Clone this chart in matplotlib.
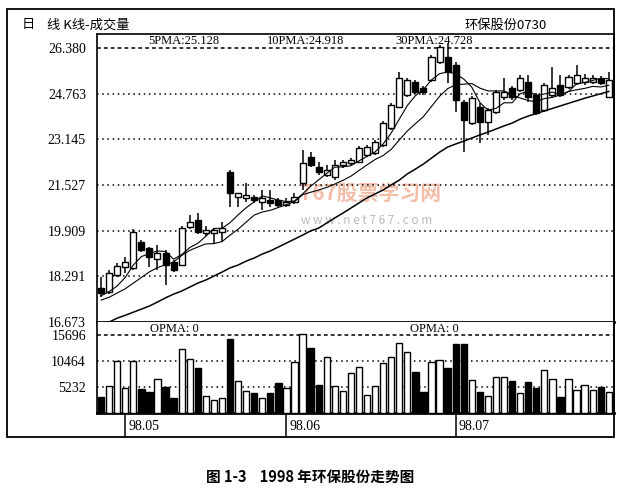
import matplotlib
matplotlib.use("Agg")
from matplotlib import pyplot as plt
from matplotlib.patches import Rectangle
from matplotlib.transforms import blended_transform_factory
import numpy as np

# daily candles, 1998-04 .. 1998-07
opens = [17.88, 17.73, 18.34, 18.62, 18.59, 19.51, 19.29, 18.90, 19.12, 18.80,
         18.69, 20.04, 20.29, 19.83, 19.83, 19.86, 21.99, 21.10, 21.07, 21.10,
         20.92, 20.99, 20.99, 20.82, 20.92, 21.60, 22.52, 22.16, 21.88, 21.81,
         22.23, 22.31, 22.34, 22.59, 22.66, 22.94, 23.55, 24.29, 24.72, 25.18,
         24.96, 25.25, 25.88, 26.06, 25.78, 24.47, 23.72, 24.29, 23.76, 24.11,
         24.64, 24.96, 24.89, 25.18, 24.72, 24.18, 24.72, 25.07, 25.00, 25.14,
         25.18, 25.18, 25.28, 24.64]
highs = [18.27, 18.52, 18.76, 18.97, 19.97, 19.58, 19.33, 19.40, 19.22, 18.87,
         20.07, 20.46, 20.53, 20.07, 20.00, 20.22, 22.06, 21.26, 21.60, 21.17,
         21.35, 21.35, 21.07, 21.07, 21.24, 22.77, 22.69, 22.34, 22.23, 22.41,
         22.41, 22.48, 22.91, 22.94, 23.12, 23.79, 24.43, 25.53, 25.32, 25.25,
         25.03, 26.13, 26.49, 26.56, 25.88, 24.54, 24.68, 24.43, 24.25, 24.89,
         25.32, 25.03, 25.42, 25.42, 24.79, 25.14, 25.71, 25.42, 25.42, 25.78,
         25.46, 25.42, 25.39, 25.53]
lows = [17.56, 17.66, 18.27, 18.41, 18.52, 19.15, 18.62, 18.52, 17.98, 18.44,
        18.66, 19.97, 19.79, 19.72, 19.47, 19.51, 20.75, 20.75, 20.92, 20.89,
        20.64, 20.75, 20.75, 20.75, 20.85, 21.35, 22.16, 21.88, 21.81, 21.70,
        22.13, 22.23, 22.31, 22.52, 22.59, 22.87, 23.47, 24.25, 24.64, 24.75,
        24.72, 25.18, 25.81, 25.14, 24.11, 22.69, 23.65, 23.01, 23.30, 24.04,
        24.54, 24.54, 24.82, 24.47, 24.00, 24.11, 24.64, 24.64, 24.93, 25.07,
        25.07, 25.10, 25.07, 24.64]
closes = [17.70, 18.41, 18.66, 18.80, 19.86, 19.22, 18.97, 19.12, 18.69, 18.52,
          20.00, 20.22, 19.86, 19.93, 19.93, 20.00, 21.24, 21.24, 21.17, 20.99,
          21.07, 20.89, 20.82, 20.92, 21.10, 22.31, 22.23, 21.99, 22.06, 22.23,
          22.34, 22.41, 22.84, 22.87, 23.05, 23.72, 24.36, 25.32, 25.25, 24.82,
          24.82, 26.06, 26.42, 25.53, 24.54, 23.83, 24.61, 23.76, 24.18, 24.82,
          24.82, 24.64, 25.32, 24.64, 24.08, 25.07, 24.96, 24.72, 25.35, 25.42,
          25.32, 25.32, 25.14, 25.25]
volumes = [3220, 5430, 10460, 5030, 10460, 4830, 4230, 6840, 5230, 3020,
           12880, 10870, 9050, 3420, 2620, 3020, 14890, 6440, 4430, 4020,
           3020, 4020, 6040, 5030, 10260, 15900, 13080, 5630, 11270, 5430,
           4430, 8050, 9260, 3620, 5430, 10060, 11270, 14080, 12270, 8250,
           4230, 10260, 10660, 9050, 13880, 13880, 6640, 4230, 3420, 7240,
           7240, 6440, 4020, 6240, 5030, 8650, 6840, 3220, 6840, 4630,
           5630, 4630, 5230, 4230]

# moving averages as drawn
ma5 = [17.60, 17.75, 17.95, 18.25, 18.69, 18.99, 19.10, 19.19, 19.17, 18.90,
       19.06, 19.31, 19.46, 19.71, 19.99, 19.99, 20.19, 20.47, 20.72, 20.93,
       21.14, 21.07, 20.99, 20.94, 20.96, 21.21, 21.48, 21.71, 21.94, 22.16,
       22.17, 22.21, 22.38, 22.54, 22.70, 22.98, 23.37, 23.86, 24.34, 24.69,
       24.91, 25.25, 25.47, 25.53, 25.47, 25.28, 24.99, 24.45, 24.18, 24.24,
       24.44, 24.44, 24.76, 24.85, 24.70, 24.75, 24.82, 24.70, 24.84, 25.11,
       25.16, 25.23, 25.31, 25.29]
ma10 = [17.45, 17.55, 17.70, 17.85, 18.05, 18.25, 18.45, 18.60, 18.70, 18.80,
        19.03, 19.21, 19.33, 19.44, 19.45, 19.52, 19.75, 19.96, 20.21, 20.46,
        20.57, 20.63, 20.73, 20.83, 20.94, 21.18, 21.27, 21.35, 21.44, 21.56,
        21.69, 21.84, 22.04, 22.24, 22.43, 22.57, 22.79, 23.12, 23.44, 23.70,
        23.95, 24.31, 24.67, 24.94, 25.08, 25.10, 25.12, 24.96, 24.86, 24.86,
        24.86, 24.72, 24.61, 24.52, 24.47, 24.59, 24.63, 24.72, 24.84, 24.90,
        24.95, 25.02, 25.00, 25.06]
ma30 = [16.57, 16.67, 16.81, 16.91, 17.02, 17.13, 17.24, 17.38, 17.53, 17.66,
        17.77, 17.91, 18.05, 18.16, 18.30, 18.44, 18.59, 18.69, 18.83, 18.94,
        19.08, 19.19, 19.33, 19.47, 19.61, 19.75, 19.90, 20.00, 20.18, 20.36,
        20.53, 20.71, 20.89, 21.07, 21.21, 21.35, 21.53, 21.70, 21.92, 22.09,
        22.27, 22.48, 22.69, 22.87, 22.98, 23.08, 23.19, 23.30, 23.40, 23.51,
        23.62, 23.72, 23.86, 23.97, 24.06, 24.15, 24.24, 24.33, 24.42, 24.51,
        24.60, 24.68, 24.76, 24.84]

price_ticks = [16.673, 18.291, 19.909, 21.527, 23.145, 24.763, 26.380]
vol_ticks = [5232, 10464, 15696]
month_pos = [3, 23, 44]
month_labels = ["98.05", "98.06", "98.07"]

plt.rcParams['font.family'] = ['Liberation Serif', 'Noto Sans CJK SC']
CJK = ['Noto Sans CJK SC', 'DejaVu Sans']

fig = plt.figure(figsize=(6.2, 4.98), dpi=100)
ax = fig.add_axes([0.1565, 0.3534, 0.8339, 0.5783])
axv = fig.add_axes([0.1565, 0.1707, 0.8339, 0.1827], sharex=ax)
axd = fig.add_axes([0.1565, 0.1225, 0.8339, 0.0482], sharex=ax)

x = np.arange(len(closes))
o = np.array(opens)
c = np.array(closes)
up = c >= o

# candles
ax.vlines(x, lows, highs, color='black', linewidth=1.1, zorder=2)
body_low = np.minimum(o, c)
body_h = np.maximum(np.abs(c - o), 0.035)
ax.bar(x, body_h, bottom=body_low, width=0.75,
       color=np.where(up, 'white', 'black'), edgecolor='black',
       linewidth=1.0, zorder=3)

ax.plot(x, ma5, color='black', linewidth=0.8, zorder=4)
ax.plot(x, ma10, color='black', linewidth=0.8, zorder=4)
ax.plot(x, ma30, color='black', linewidth=1.1, zorder=4)

for t in price_ticks[1:]:
    ls = (0, (2.5, 2)) if t == price_ticks[-1] else (0, (1, 2.4))
    ax.axhline(t, color='black', linewidth=1.1, linestyle=ls, zorder=1)

ax.set_xlim(-0.5, 63.65)
ax.set_ylim(16.673, 26.876)
ax.set_yticks(price_ticks)
ax.set_yticklabels([f"{t:.3f}" for t in price_ticks])
ax.tick_params(axis='y', length=0, pad=8, labelsize=10)
ax.tick_params(axis='x', bottom=False, labelbottom=False)
ax.spines['bottom'].set_linewidth(2)
for s in ['left', 'top', 'right']:
    ax.spines[s].set_linewidth(1.2)

ax.text(5.8, 26.40, "5PMA:25.128", fontsize=9, va='bottom')
ax.text(20.6, 26.40, "10PMA:24.918", fontsize=9, va='bottom')
ax.text(36.5, 26.40, "30PMA:24.728", fontsize=9, va='bottom')

# watermark
ax.text(33.5, 21.23, "767股票学习网", family=CJK, fontsize=15, weight='bold',
        style='italic', color='#f2ad93', alpha=0.8, ha='center', va='center', zorder=0)
ax.text(33.0, 20.28, "w w w . n e t 7 6 7 . c o m", family=CJK, fontsize=8.5,
        color='#bbbbbb', ha='center', va='center', zorder=0)

# volume
axv.bar(x, volumes, width=0.78, color=np.where(up, 'white', 'black'),
        edgecolor='black', linewidth=1.0, zorder=3)
for t in vol_ticks:
    ls = (0, (2.5, 2)) if t == vol_ticks[-1] else (0, (1, 2.4))
    axv.axhline(t, color='black', linewidth=1.1, linestyle=ls, zorder=1)
axv.set_ylim(0, 18310)
axv.set_yticks(vol_ticks)
axv.set_yticklabels([str(t) for t in vol_ticks])
axv.tick_params(axis='y', length=0, pad=8, labelsize=10)
axv.tick_params(axis='x', bottom=False, labelbottom=False)
axv.spines['bottom'].set_linewidth(2)
axv.spines['top'].set_visible(False)
for s in ['left', 'right']:
    axv.spines[s].set_linewidth(1.2)
axv.text(6.1, 15750, "OPMA: 0", fontsize=9, va='bottom')
axv.text(38.3, 15750, "OPMA: 0", fontsize=9, va='bottom')

# month row
axd.set_ylim(0, 1)
axd.axis('off')
for p, lab in zip(month_pos, month_labels):
    axd.axvline(p, color='black', linewidth=1.1)
    axd.text(p + 0.35, 0.45, lab, fontsize=10, va='center')

# frame and header
fig.patches.append(Rectangle((0.0113, 0.1225), 0.979, 0.8594, fill=False,
                             edgecolor='black', linewidth=1.3,
                             transform=fig.transFigure))
fig.text(22 / 620, 0.950, "日", family=CJK, fontsize=9.5, va='center')
fig.text(47 / 620, 0.950, "线 K线-成交量", family=CJK, fontsize=9.5, va='center')
fig.text(465 / 620, 0.950, "环保股份0730", family=CJK, fontsize=9.5, va='center')

fig.text(0.5, 1 - 477 / 498, "图 1-3    1998 年环保股份走势图", family=CJK,
         fontsize=10.5, weight='bold', ha='center', va='center')

fig.savefig("out.png", dpi=100)
